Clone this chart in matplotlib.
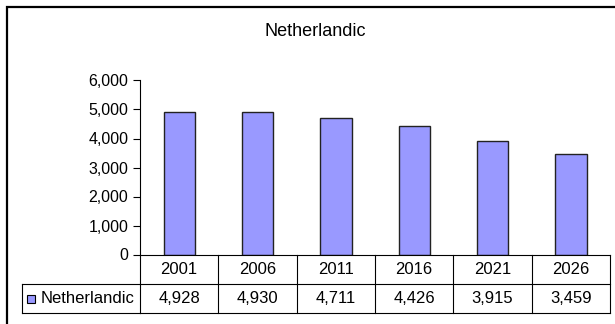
import matplotlib.pyplot as plt
from matplotlib.patches import Rectangle
from matplotlib.ticker import FuncFormatter
import matplotlib.transforms as mtransforms

plt.rcParams['font.family'] = ['Liberation Sans', 'DejaVu Sans']

# Netherlandic speakers by census year
years = ['2001', '2006', '2011', '2016', '2021', '2026']
speakers = [4928, 4930, 4711, 4426, 3915, 3459]
series_name = 'Netherlandic'
yticks = [0, 1000, 2000, 3000, 4000, 5000, 6000]

W, H = 615, 324
fig = plt.figure(figsize=(W / 100, H / 100), dpi=100)

# plot area in pixel units
left, right, top, base = 140, 610, 80.5, 254.5
ax = fig.add_axes([left / W, (H - base) / H, (right - left) / W, (base - top) / H])

x = range(len(years))
ax.bar(x, speakers, width=0.4, color='#9999FF', edgecolor='#222222', linewidth=1.0)
ax.set_xlim(-0.5, len(years) - 0.5)
ax.set_ylim(0, 6000)
ax.set_yticks(yticks)
ax.yaxis.set_major_formatter(FuncFormatter(lambda v, p: f'{int(v):,}'))
ax.tick_params(axis='y', direction='out', length=5, width=0.8, labelsize=11.5, pad=3.5)
ax.set_xticks([])
for s in ['top', 'right']:
    ax.spines[s].set_visible(False)
ax.spines['left'].set_linewidth(0.8)
ax.spines['bottom'].set_linewidth(0.8)

fig.text(315 / W, 1 - 31 / H, series_name, ha='center', va='center', fontsize=13)

# data table under the axis
h = base - top
row1 = -(284 - base) / h
row2 = -(313 - base) / h
leg_left = -(left - 21.5) / (right - left)
tr = mtransforms.blended_transform_factory(ax.transData, ax.transAxes)
lkw = dict(color='black', linewidth=0.8, clip_on=False)

n = len(years)
for k in range(n + 1):
    ax.plot([k - 0.5, k - 0.5], [0, row2], transform=tr, **lkw)
ax.plot([-0.5, n - 0.5], [row1, row1], transform=tr, **lkw)
ax.plot([-0.5, n - 0.5], [row2, row2], transform=tr, **lkw)
ax.plot([leg_left, 0], [row1, row1], transform=ax.transAxes, **lkw)
ax.plot([leg_left, 0], [row2, row2], transform=ax.transAxes, **lkw)
ax.plot([leg_left, leg_left], [row1, row2], transform=ax.transAxes, **lkw)

for i, (yr, v) in enumerate(zip(years, speakers)):
    ax.text(i, row1 / 2, yr, transform=tr, ha='center', va='center', fontsize=12)
    ax.text(i, (row1 + row2) / 2, f'{v:,}', transform=tr, ha='center', va='center', fontsize=12)

# legend key in the table
ym = (row1 + row2) / 2
ax.add_patch(Rectangle((-(left - 27) / (right - left), ym - 4 / h), 8 / (right - left), 8 / h,
                       transform=ax.transAxes, facecolor='#9999FF', edgecolor='black',
                       linewidth=0.8, clip_on=False))
ax.text(-(left - 40.5) / (right - left), ym, series_name, transform=ax.transAxes,
        ha='left', va='center', fontsize=12)

# chart frame
fig.patches.append(Rectangle((6.5 / W, -0.1), 1.2, 1 - 7.5 / H + 0.1, transform=fig.transFigure,
                             fill=False, edgecolor='black', linewidth=1.6))

fig.savefig('out.png', dpi=100)
